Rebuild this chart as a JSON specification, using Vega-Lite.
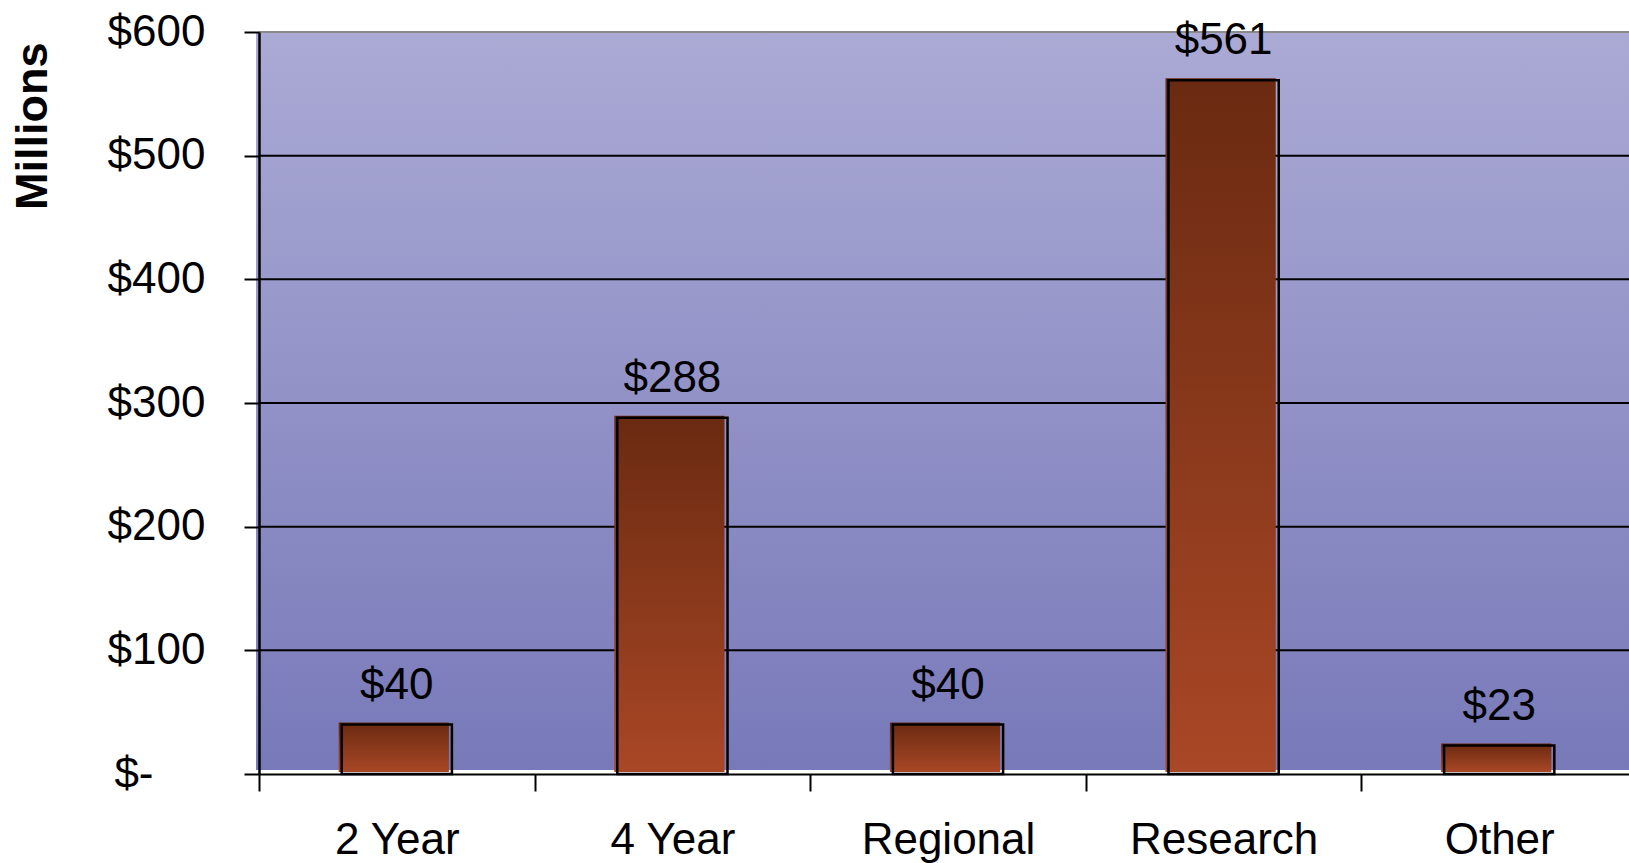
{
  "$schema": "https://vega.github.io/schema/vega-lite/v6.json",
  "width": 1370,
  "height": 742,
  "autosize": {"type": "none"},
  "padding": {"left": 259, "top": 32, "right": 0, "bottom": 89},
  "background": "white",
  "config": {"view": {"stroke": null}, "font": "Liberation Sans"},
  "data": {"values": [
    {"type": "2 Year", "amount": 40},
    {"type": "4 Year", "amount": 288},
    {"type": "Regional", "amount": 40},
    {"type": "Research", "amount": 561},
    {"type": "Other", "amount": 23}
  ]},
  "layer": [
    {
      "mark": {"type": "rect", "y2Offset": -4, "xOffset": -3, "color": {"gradient": "linear", "x1": 0, "y1": 0, "x2": 0, "y2": 1, "stops": [{"offset": 0, "color": "#abaad5"}, {"offset": 1, "color": "#7879b9"}]}},
      "encoding": {
        "x": {"value": 0},
        "x2": {"value": "width"},
        "y": {"datum": 600, "type": "quantitative", "scale": {"domain": [0, 600], "nice": false}, "title": "Millions",
          "axis": {"zindex": 1, "values": [0, 100, 200, 300, 400, 500, 600], "labelExpr": "datum.value == 0 ? '$-' : '$' + datum.value", "grid": false, "tickSize": 15, "tickWidth": 2, "tickColor": "black", "domainColor": "black", "domainWidth": 2.5, "labelFontSize": 44, "labelPadding": {"condition": {"test": "datum.value == 0", "value": 91}, "value": 39}, "labelColor": "black", "labelFont": "Liberation Sans", "titleFont": "Liberation Sans", "titleFontSize": 45, "titleFontWeight": "bold", "titleColor": "black", "titleAngle": -90, "titleX": -227, "titleY": 10, "titleAlign": "right", "titleBaseline": "middle"}},
        "y2": {"datum": 0}
      }
    },
    {
      "data": {"values": [{"v": 100}, {"v": 200}, {"v": 300}, {"v": 400}, {"v": 500}, {"v": 600}]},
      "mark": {"type": "rule", "strokeWidth": 2},
      "encoding": {
        "y": {"field": "v", "type": "quantitative", "scale": {"domain": [0, 600], "nice": false}, "title": "Millions",
          "axis": {"zindex": 1, "values": [0, 100, 200, 300, 400, 500, 600], "labelExpr": "datum.value == 0 ? '$-' : '$' + datum.value", "grid": false, "tickSize": 15, "tickWidth": 2, "tickColor": "black", "domainColor": "black", "domainWidth": 2.5, "labelFontSize": 44, "labelPadding": {"condition": {"test": "datum.value == 0", "value": 91}, "value": 39}, "labelColor": "black", "labelFont": "Liberation Sans", "titleFont": "Liberation Sans", "titleFontSize": 45, "titleFontWeight": "bold", "titleColor": "black", "titleAngle": -90, "titleX": -227, "titleY": 10, "titleAlign": "right", "titleBaseline": "middle"}},
        "color": {"condition": {"test": "datum.v == 600", "value": "#8a8a8a"}, "value": "black"}
      }
    },
    {
      "mark": {"type": "bar", "width": {"band": 0.4}, "xOffset": -3, "yOffset": -2, "y2Offset": -4, "color": {"gradient": "linear", "x1": 0, "y1": 0, "x2": 0, "y2": 1, "stops": [{"offset": 0, "color": "#6a2a11"}, {"offset": 1, "color": "#a94726"}]}},
      "encoding": {
        "x": {"field": "type", "type": "nominal", "sort": null, "title": null, "scale": {"range": [0, 1378], "paddingInner": 0, "paddingOuter": 0},
          "axis": {"zindex": 1, "tickBand": "extent", "labelAngle": 0, "labelLimit": 0, "tickSize": 17, "tickWidth": 2, "tickColor": "black", "domainColor": "black", "domainWidth": 2, "labelFontSize": 44, "labelPadding": 27, "labelColor": "black", "labelFont": "Liberation Sans"}},
        "y": {"field": "amount", "type": "quantitative", "scale": {"domain": [0, 600], "nice": false}, "title": "Millions",
          "axis": {"zindex": 1, "values": [0, 100, 200, 300, 400, 500, 600], "labelExpr": "datum.value == 0 ? '$-' : '$' + datum.value", "grid": false, "tickSize": 15, "tickWidth": 2, "tickColor": "black", "domainColor": "black", "domainWidth": 2.5, "labelFontSize": 44, "labelPadding": {"condition": {"test": "datum.value == 0", "value": 91}, "value": 39}, "labelColor": "black", "labelFont": "Liberation Sans", "titleFont": "Liberation Sans", "titleFontSize": 45, "titleFontWeight": "bold", "titleColor": "black", "titleAngle": -90, "titleX": -227, "titleY": 10, "titleAlign": "right", "titleBaseline": "middle"}}
      }
    },
    {
      "mark": {"type": "bar", "width": {"band": 0.4}, "fill": "transparent", "stroke": "black", "strokeWidth": 2.5},
      "encoding": {
        "x": {"field": "type", "type": "nominal", "sort": null, "title": null, "scale": {"range": [0, 1378], "paddingInner": 0, "paddingOuter": 0},
          "axis": {"zindex": 1, "tickBand": "extent", "labelAngle": 0, "labelLimit": 0, "tickSize": 17, "tickWidth": 2, "tickColor": "black", "domainColor": "black", "domainWidth": 2, "labelFontSize": 44, "labelPadding": 27, "labelColor": "black", "labelFont": "Liberation Sans"}},
        "y": {"field": "amount", "type": "quantitative", "scale": {"domain": [0, 600], "nice": false}, "title": "Millions",
          "axis": {"zindex": 1, "values": [0, 100, 200, 300, 400, 500, 600], "labelExpr": "datum.value == 0 ? '$-' : '$' + datum.value", "grid": false, "tickSize": 15, "tickWidth": 2, "tickColor": "black", "domainColor": "black", "domainWidth": 2.5, "labelFontSize": 44, "labelPadding": {"condition": {"test": "datum.value == 0", "value": 91}, "value": 39}, "labelColor": "black", "labelFont": "Liberation Sans", "titleFont": "Liberation Sans", "titleFontSize": 45, "titleFontWeight": "bold", "titleColor": "black", "titleAngle": -90, "titleX": -227, "titleY": 10, "titleAlign": "right", "titleBaseline": "middle"}}
      }
    },
    {
      "mark": {"type": "text", "dy": -26, "baseline": "alphabetic", "align": "center", "fontSize": 44, "color": "black", "font": "Liberation Sans"},
      "encoding": {
        "x": {"field": "type", "type": "nominal", "sort": null, "title": null, "scale": {"range": [0, 1378], "paddingInner": 0, "paddingOuter": 0},
          "axis": {"zindex": 1, "tickBand": "extent", "labelAngle": 0, "labelLimit": 0, "tickSize": 17, "tickWidth": 2, "tickColor": "black", "domainColor": "black", "domainWidth": 2, "labelFontSize": 44, "labelPadding": 27, "labelColor": "black", "labelFont": "Liberation Sans"}},
        "y": {"field": "amount", "type": "quantitative", "scale": {"domain": [0, 600], "nice": false}, "title": "Millions",
          "axis": {"zindex": 1, "values": [0, 100, 200, 300, 400, 500, 600], "labelExpr": "datum.value == 0 ? '$-' : '$' + datum.value", "grid": false, "tickSize": 15, "tickWidth": 2, "tickColor": "black", "domainColor": "black", "domainWidth": 2.5, "labelFontSize": 44, "labelPadding": {"condition": {"test": "datum.value == 0", "value": 91}, "value": 39}, "labelColor": "black", "labelFont": "Liberation Sans", "titleFont": "Liberation Sans", "titleFontSize": 45, "titleFontWeight": "bold", "titleColor": "black", "titleAngle": -90, "titleX": -227, "titleY": 10, "titleAlign": "right", "titleBaseline": "middle"}},
        "text": {"field": "amount", "type": "quantitative", "format": "$,.0f"}
      }
    }
  ]
}
